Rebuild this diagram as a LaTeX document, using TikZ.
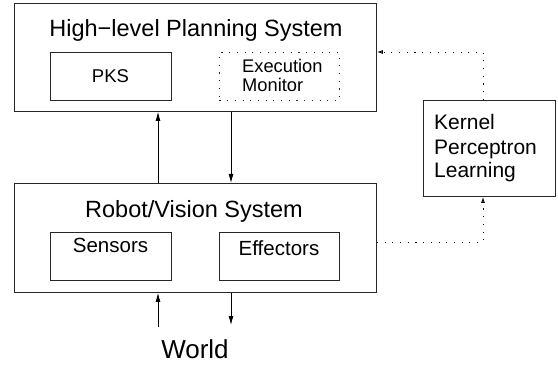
\documentclass[tikz,border=0pt]{standalone}
\usepackage{fontspec}
\setmainfont{Liberation Sans}
\usetikzlibrary{arrows.meta}
\begin{document}
\begin{tikzpicture}[x=1pt,y=-1pt,
  box/.style={draw=black!85,line width=0.9pt,inner sep=0pt,anchor=north west},
  dotbox/.style={box,dash pattern=on 1.1pt off 6.6pt},
  txt/.style={inner sep=0pt,anchor=base},
  ltxt/.style={inner sep=0pt,anchor=base west},
  solid arrow/.style={line width=0.8pt,-{Latex[length=9pt,width=5pt]}},
  dot arrow/.style={line width=0.9pt,dash pattern=on 1.1pt off 6.6pt,-{Latex[open,length=6pt,width=4pt]}}]
\useasboundingbox (0,0) rectangle (558,369);
% boxes
\node[box,minimum width=362pt,minimum height=108pt] (hl) at (14,3) {};
\node[box,minimum width=121pt,minimum height=48pt] (pks) at (50,52) {};
\node[dotbox,minimum width=120pt,minimum height=48pt] (em) at (219,52) {};
\node[box,minimum width=362pt,minimum height=109pt] (rv) at (14,183) {};
\node[box,minimum width=121pt,minimum height=48pt] (sen) at (50,232) {};
\node[box,minimum width=120pt,minimum height=48pt] (eff) at (219,232) {};
\node[box,minimum width=132pt,minimum height=96pt] (kpl) at (423,100) {};
% texts
\node[txt,font=\fontsize{23.5}{28}\selectfont] (hlt) at (196,36.5) {High−level Planning System};
\node[txt,font=\fontsize{18.5}{22}\selectfont] (pkst) at (110.5,83) {PKS};
\node[ltxt,font=\fontsize{18.3}{22}\selectfont] (emt1) at (242,73) {Execution};
\node[ltxt,font=\fontsize{18.3}{22}\selectfont] (emt2) at (242,92) {Monitor};
\node[txt,font=\fontsize{23.5}{28}\selectfont] (rvt) at (194,218) {Robot/Vision System};
\node[txt,font=\fontsize{20.5}{24}\selectfont] (sent) at (110.5,252) {Sensors};
\node[txt,font=\fontsize{20.5}{24}\selectfont] (efft) at (279,255) {Effectors};
\node[ltxt,font=\fontsize{21}{24}\selectfont] (k1) at (434,130) {Kernel};
\node[ltxt,font=\fontsize{21}{24}\selectfont] (k2) at (434,155) {Perceptron};
\node[ltxt,font=\fontsize{21}{24}\selectfont] (k3) at (434,178) {Learning};
\node[txt,font=\fontsize{26}{30}\selectfont] (world) at (195,358) {World};
% coordinates
\coordinate (wu) at (158,327);
\coordinate (wd) at (231,325);
\coordinate (c1) at (483,52);
\coordinate (c2) at (483,242);
% solid arrows
\draw[solid arrow] (rv.north west -| wu) -- (hl.south west -| wu);
\draw[solid arrow] (hl.south west -| wd) -- (rv.north west -| wd);
\draw[solid arrow] (wu) -- (rv.south west -| wu);
\draw[solid arrow] (rv.south west -| wd) -- (wd);
% dotted arrows
\draw[dot arrow] (kpl.north west -| c1) -- (c1) -- (hl.north east |- c1);
\draw[dot arrow] (rv.north east |- c2) -- (c2) -- (kpl.south west -| c2);
\end{tikzpicture}
\end{document}
